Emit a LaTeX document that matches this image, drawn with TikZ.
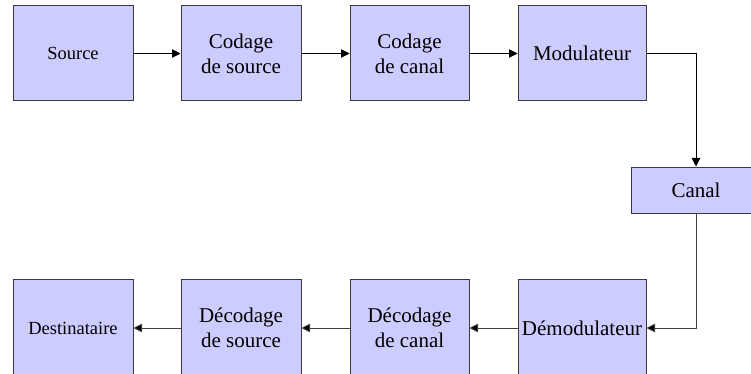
\documentclass[tikz,border=0pt]{standalone}
\usepackage{fontspec}
\setmainfont{Liberation Serif}
\usetikzlibrary{arrows.meta}
\definecolor{boxfill}{HTML}{CCCCFF}
\definecolor{boxdraw}{HTML}{3A3A3A}
\tikzset{
  blockbox/.style={draw=boxdraw, fill=boxfill, line width=1pt, rectangle, inner sep=0pt,
    align=center, font=\fontsize{21}{25}\selectfont},
  smalltext/.style={font=\fontsize{18.5}{22}\selectfont},
  flow/.style={draw=black, line width=0.9pt, -{Triangle[length=8.5pt,width=8.5pt]}},
  backflow/.style={draw=black!75, line width=0.9pt, -{Triangle[length=8.5pt,width=8.5pt,fill=black]}},
}
\begin{document}
\begin{tikzpicture}[x=1pt,y=-1pt]
\useasboundingbox (0,0) rectangle (751,374);
\fill[white] (0,0) rectangle (751,374);
\clip (0,0) rectangle (751,374);
% top row
\node[blockbox, smalltext, minimum width=120pt, minimum height=95pt] (src) at (73,53.5) {Source};
\node[blockbox, minimum width=120pt, minimum height=95pt] (cs) at (241,53.5) {Codage\\de source};
\node[blockbox, minimum width=119pt, minimum height=95pt] (cc) at (409.5,53.5) {Codage\\de canal};
\node[blockbox, minimum width=128pt, minimum height=95pt] (mod) at (582,53.5) {Modulateur};
% channel
\node[blockbox, minimum width=130pt, minimum height=46pt] (can) at (696,190) {Canal};
% bottom row
\node[blockbox, smalltext, minimum width=120pt, minimum height=98pt] (dst) at (73,328) {Destinataire};
\node[blockbox, minimum width=120pt, minimum height=98pt] (ds) at (241,328) {Décodage\\de source};
\node[blockbox, minimum width=119pt, minimum height=98pt] (dc) at (409.5,328) {Décodage\\de canal};
\node[blockbox, minimum width=128pt, minimum height=98pt] (dem) at (582,328) {Démodulateur};
% connectors
\draw[flow] (src.east) -- (cs.west);
\draw[flow] (cs.east) -- (cc.west);
\draw[flow] (cc.east) -- (mod.west);
\draw[flow] (mod.east) -| (can.north);
\draw[backflow] (can.south) |- (dem.east);
\draw[backflow] (dem.west) -- (dc.east);
\draw[backflow] (dc.west) -- (ds.east);
\draw[backflow] (ds.west) -- (dst.east);
\end{tikzpicture}
\end{document}
